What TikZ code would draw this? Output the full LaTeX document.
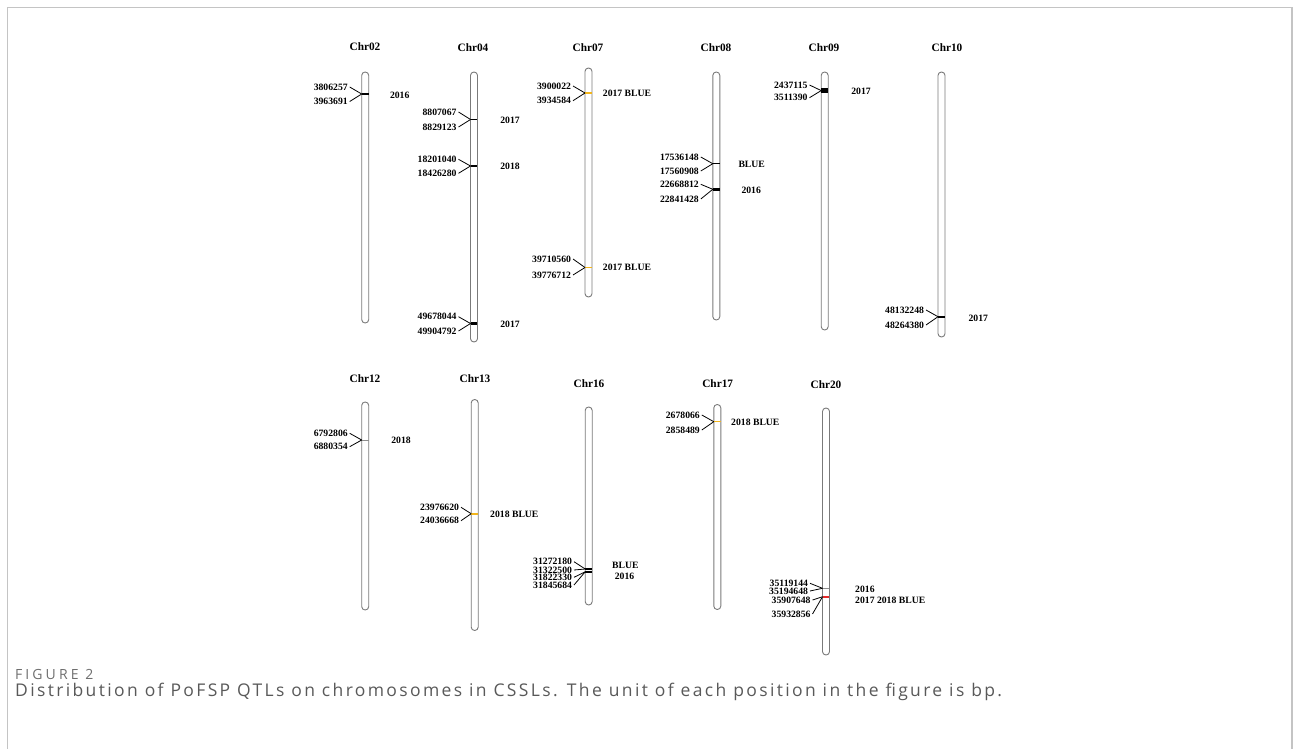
\documentclass[tikz,border=0pt]{standalone}
\usepackage{fontspec}
\setmainfont{Liberation Serif}
\newfontfamily\capfont[LetterSpace=13.5]{Open Sans}
\newfontfamily\figfont[LetterSpace=22]{Open Sans}
\definecolor{framegray}{HTML}{C4C4C4}
\definecolor{bargray}{HTML}{7A7A7A}
\definecolor{qtlgold}{HTML}{F2B51C}
\definecolor{qtlred}{HTML}{E52A2A}
\definecolor{thingray}{HTML}{8C8C8C}
\definecolor{capgray}{HTML}{595959}
\definecolor{figgray}{HTML}{6E6E6E}

% marker across a chromosome: id, bar centre x, y, thickness, colour
\newcommand\qtlmark[5]{%
  \draw[draw=#5, line width=#4] (#2-3.3,#3) -- (#2+3.3,#3);
  \coordinate (#1) at (#2-3.5,#3);}
% position label joined to its marker: name, marker, right x, y, text
\newcommand\poslabel[5]{%
  \node[num, anchor=east] (#1) at (#3,#4) {#5};
  \draw[conn] (#1.east) -- (#2);}

\begin{document}
\begin{tikzpicture}[x=1pt,y=-1pt,
  chrbar/.style={draw=bargray, fill=white, line width=0.9pt, minimum width=7pt,
    inner sep=0pt, rounded corners=3.4pt},
  chrtitle/.style={font=\fontsize{11.3}{12}\selectfont\bfseries, inner sep=0pt},
  num/.style={font=\fontsize{9.7}{10}\selectfont\bfseries, inner sep=1.8pt},
  year/.style={font=\fontsize{9.7}{10}\selectfont\bfseries, inner sep=0pt},
  conn/.style={draw=black, line width=0.8pt}]
\useasboundingbox (0,0) rectangle (1293,749);
\draw[framegray, line width=1.6pt] (7.5,749) -- (7.5,7.5) -- (1292,7.5) -- (1292,749);

% ---------- top row ----------
\node[chrtitle] (t02) at (365,47) {Chr02};
\node[chrtitle] (t04) at (473,48) {Chr04};
\node[chrtitle] (t07) at (588,48) {Chr07};
\node[chrtitle] (t08) at (716,48) {Chr08};
\node[chrtitle] (t09) at (824,48) {Chr09};
\node[chrtitle] (t10) at (947,48) {Chr10};

\node[chrbar, minimum height=251pt] (c02) at (365.2,197.5) {};
\node[chrbar, minimum height=270pt] (c04) at (474,207) {};
\node[chrbar, minimum height=229pt] (c07) at (588.5,182.5) {};
\node[chrbar, minimum height=248pt] (c08) at (716.3,196) {};
\node[chrbar, minimum height=258pt] (c09) at (824.7,201) {};
\node[chrbar, minimum height=265pt] (c10) at (941.5,204.5) {};

% Chr02
\qtlmark{m02a}{365.2}{94}{2.5pt}{black}
\poslabel{l02a}{m02a}{349.7}{87}{3806257}
\poslabel{l02b}{m02a}{349.7}{101.5}{3963691}
\node[year] (y02a) at (399.7,95) {2016};

% Chr04
\qtlmark{m04a}{474}{119.5}{1pt}{black}
\poslabel{l04a}{m04a}{458.5}{112}{8807067}
\poslabel{l04b}{m04a}{458.5}{127}{8829123}
\node[year] (y04a) at (510,120) {2017};
\qtlmark{m04b}{474}{166}{2.5pt}{black}
\poslabel{l04c}{m04b}{458.5}{159.3}{18201040}
\poslabel{l04d}{m04b}{458.5}{173.3}{18426280}
\node[year] (y04b) at (510,166) {2018};
\qtlmark{m04c}{474}{323.5}{2.5pt}{black}
\poslabel{l04e}{m04c}{458.5}{316.7}{49678044}
\poslabel{l04f}{m04c}{458.5}{331}{49904792}
\node[year] (y04c) at (510,324) {2017};

% Chr07
\qtlmark{m07a}{588.5}{93}{1.5pt}{qtlgold}
\poslabel{l07a}{m07a}{573}{86}{3900022}
\poslabel{l07b}{m07a}{573}{100.7}{3934584}
\node[year, anchor=west] (y07a) at (602.7,93) {2017 BLUE};
\qtlmark{m07b}{588.5}{267.5}{1.5pt}{qtlgold}
\poslabel{l07c}{m07b}{573}{259}{39710560}
\poslabel{l07d}{m07b}{573}{275}{39776712}
\node[year, anchor=west] (y07b) at (602.7,267.5) {2017 BLUE};

% Chr08
\qtlmark{m08a}{716.3}{163.7}{1pt}{black}
\poslabel{l08a}{m08a}{700.8}{157}{17536148}
\poslabel{l08b}{m08a}{700.8}{171}{17560908}
\node[year] (y08a) at (751.7,164) {BLUE};
\qtlmark{m08b}{716.3}{189.3}{2.5pt}{black}
\poslabel{l08c}{m08b}{700.8}{184.3}{22668812}
\poslabel{l08d}{m08b}{700.8}{199}{22841428}
\node[year] (y08b) at (751.2,190) {2016};

% Chr09
\qtlmark{m09a}{824.7}{90.6}{5.5pt}{black}
\poslabel{l09a}{m09a}{809.5}{85}{2437115}
\poslabel{l09b}{m09a}{809.5}{97.7}{3511390}
\node[year] (y09a) at (861,91) {2017};

% Chr10
\qtlmark{m10a}{941.5}{316.7}{2pt}{black}
\poslabel{l10a}{m10a}{926}{310}{48132248}
\poslabel{l10b}{m10a}{926}{325}{48264380}
\node[year] (y10a) at (978.3,318) {2017};

% ---------- bottom row ----------
\node[chrtitle] (t12) at (365,378.3) {Chr12};
\node[chrtitle] (t13) at (475,378.5) {Chr13};
\node[chrtitle] (t16) at (589,383.3) {Chr16};
\node[chrtitle] (t17) at (717.7,383.5) {Chr17};
\node[chrtitle] (t20) at (826,385) {Chr20};

\node[chrbar, minimum height=208pt] (c12) at (365.2,506) {};
\node[chrbar, minimum height=231pt] (c13) at (474.7,515) {};
\node[chrbar, minimum height=198pt] (c16) at (588.7,506) {};
\node[chrbar, minimum height=205pt] (c17) at (717.3,507) {};
\node[chrbar, minimum height=247pt] (c20) at (826,531.5) {};

% Chr12
\qtlmark{m12a}{365.2}{440}{1pt}{thingray}
\poslabel{l12a}{m12a}{349.7}{433.3}{6792806}
\poslabel{l12b}{m12a}{349.7}{446.7}{6880354}
\node[year] (y12a) at (401,440) {2018};

% Chr13
\qtlmark{m13a}{474.7}{513.7}{2pt}{qtlgold}
\poslabel{l13a}{m13a}{461}{507.3}{23976620}
\poslabel{l13b}{m13a}{461}{520.7}{24036668}
\node[year, anchor=west] (y13a) at (490,514) {2018 BLUE};

% Chr16
\qtlmark{m16a}{588.7}{569}{2pt}{black}
\qtlmark{m16b}{588.7}{571.8}{1.5pt}{black}
\poslabel{l16a}{m16a}{574}{561.7}{31272180}
\poslabel{l16b}{m16a}{574}{570}{31322500}
\poslabel{l16c}{m16b}{574}{577.3}{31822330}
\poslabel{l16d}{m16b}{574}{585}{31845684}
\node[year] (y16a) at (625.3,565.3) {BLUE};
\node[year] (y16b) at (624.5,576.7) {2016};

% Chr17
\qtlmark{m17a}{717.3}{421.7}{1.5pt}{qtlgold}
\poslabel{l17a}{m17a}{701.8}{415}{2678066}
\poslabel{l17b}{m17a}{701.8}{430}{2858489}
\node[year, anchor=west] (y17a) at (731,422) {2018 BLUE};

% Chr20
\qtlmark{m20a}{826}{588.3}{1pt}{thingray}
\poslabel{l20a}{m20a}{810}{583.3}{35119144}
\poslabel{l20b}{m20a}{810}{591}{35194648}
\qtlmark{m20b}{826}{596.7}{2pt}{qtlred}
\poslabel{l20c}{m20b}{812.5}{600}{35907648}
\poslabel{l20d}{m20b}{812.5}{614}{35932856}
\node[year, anchor=west] (y20a) at (855,589.3) {2016};
\node[year, anchor=west] (y20b) at (855,600.7) {2017 2018 BLUE};

% ---------- caption ----------
\node[anchor=west, inner sep=0pt, text=figgray, font=\figfont\fontsize{14}{15}\selectfont] (fig) at (15,674) {FIGURE 2};
\node[anchor=west, inner sep=0pt, text=capgray, font=\capfont\fontsize{17.5}{18}\selectfont] (cap) at (15,691.5)
  {Distribution of PoFSP QTLs on chromosomes in CSSLs. The unit of each position in the figure is bp.};
\end{tikzpicture}
\end{document}
